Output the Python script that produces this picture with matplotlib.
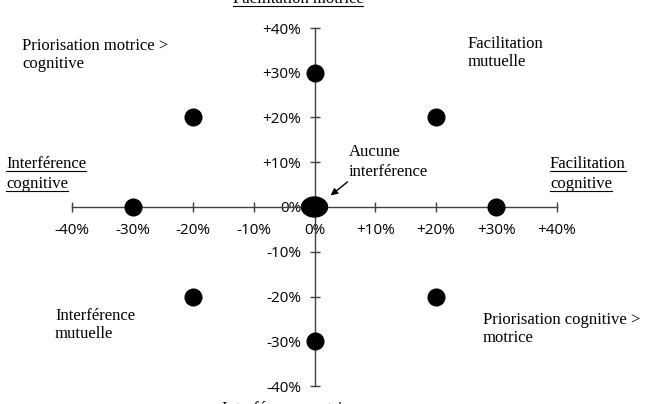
import matplotlib
matplotlib.use("Agg")
import matplotlib.pyplot as plt
from matplotlib.lines import Line2D
from matplotlib.patches import Ellipse

# points (x %, y %)
pts_x = [-30, 30, 0, 0, -20, 20, -20, 20]
pts_y = [0, 0, 30, -30, 20, 20, -20, -20]
origin = (0, 0)

ticks = [-40, -30, -20, -10, 0, 10, 20, 30, 40]
tick_labels = ["-40%", "-30%", "-20%", "-10%", "0%", "+10%", "+20%", "+30%", "+40%"]

W, H = 646, 404
fig = plt.figure(figsize=(W / 100, H / 100), dpi=100)
ax = fig.add_axes([72 / W, (H - 386) / H, (557 - 72) / W, (386 - 28) / H])
ax.set_xlim(-40, 40)
ax.set_ylim(-40, 40)

for s in ["top", "right"]:
    ax.spines[s].set_visible(False)
ax.spines["left"].set_position("zero")
ax.spines["bottom"].set_position("zero")
for s in ["left", "bottom"]:
    ax.spines[s].set_color("#404040")
    ax.spines[s].set_linewidth(1.0)

ax.set_xticks(ticks)
ax.set_yticks(ticks)
ax.set_xticklabels(tick_labels)
ax.set_yticklabels(tick_labels)
ax.tick_params(direction="inout", length=7, width=1.0, color="#404040",
               labelsize=11, pad=6)
ax.tick_params(axis="x", pad=8)
for lab in ax.get_xticklabels() + ax.get_yticklabels():
    lab.set_fontfamily("Open Sans")

ax.plot(pts_x, pts_y, "o", color="black", markersize=12, clip_on=False, zorder=5)
ax.add_patch(Ellipse(origin, 26 / 6.06, 20 / 4.475, color="black", zorder=6, clip_on=False))


def px(x, y):
    # pixel position -> figure fraction
    return x / W, 1 - y / H


serif = "Liberation Serif"
fs = 12
texts = [
    ("Priorisation motrice >\ncognitive", 22, 55, 1.15),
    ("Facilitation\nmutuelle", 468, 53, 1.15),
    ("Aucune\ninterférence", 349, 162, 1.3),
    ("Interférence\nmutuelle", 55, 325, 1.15),
    ("Priorisation cognitive >\nmotrice", 483, 329, 1.15),
]
for t, x, y, ls in texts:
    fx, fy = px(x, y)
    fig.text(fx, fy, t, fontfamily=serif, fontsize=fs, ha="left", va="center",
             linespacing=ls)

# underlined labels, baseline pixel y
underlined = [
    (["Interférence", "cognitive"], 6, [168, 188], "left"),
    (["Facilitation", "cognitive"], 550, [168, 188], "left"),
    (["Facilitation motrice"], 298, [3], "center"),
    (["Interférence motrice"], 290, [413], "center"),
]
fig.canvas.draw()
r = fig.canvas.get_renderer()
for lines, x, ys, ha in underlined:
    for line, y in zip(lines, ys):
        fx, fy = px(x, y)
        tt = fig.text(fx, fy, line, fontfamily=serif, fontsize=fs, ha=ha, va="baseline")
        bb = tt.get_window_extent(r)
        uy = (H - y - 2.5) / H
        fig.add_artist(Line2D([bb.x0 / W, bb.x1 / W], [uy, uy], color="black", lw=0.8))

ax.annotate("", xy=(2.3, 2.2), xytext=(5.8, 6.0),
            arrowprops=dict(arrowstyle="-|>", color="black", lw=1.0, mutation_scale=10),
            zorder=7)

fig.savefig("out.png", dpi=100)
